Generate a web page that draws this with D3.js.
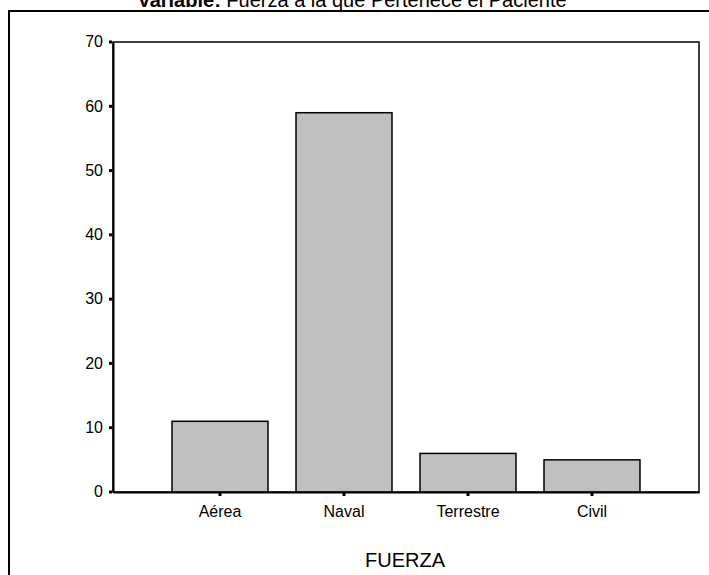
<!DOCTYPE html>
<html><head><meta charset="utf-8">
<script src="https://cdn.jsdelivr.net/npm/d3@7"></script>
<style>body{margin:0;background:#fff}svg{display:block}text{font-family:Arial,"Liberation Sans",sans-serif;fill:#000}</style>
</head><body>
<svg id="c" width="709" height="575"></svg>
<script>
const categories = ["Aérea", "Naval", "Terrestre", "Civil"];
const values = [11, 59, 6, 5];
const yTicks = [0, 10, 20, 30, 40, 50, 60, 70];
const titleBold = "Variable:";
const titleRest = " Fuerza a la que Pertenece el Paciente";
const xTitle = "FUERZA";

const svg = d3.select("#c");
const L = 113, R = 699, T = 42, B = 492;
const x = d3.scaleBand().domain(categories).range([L, R]).paddingInner(0.226).paddingOuter(0.476);
const y = d3.scaleLinear().domain([0, 70]).range([B, T]);

// outer frame
svg.append("path").attr("d", `M9,575V11H709`).attr("fill", "none").attr("stroke", "#000").attr("stroke-width", 2);

// title
const t = svg.append("text").attr("x", 352).attr("y", 6.5).attr("text-anchor", "middle").style("font-size", "20px");
t.append("tspan").attr("font-weight", "bold").text(titleBold);
t.append("tspan").text(titleRest);

// plot frame
svg.append("rect").attr("x", L).attr("y", T).attr("width", R - L).attr("height", B - T)
  .attr("fill", "none").attr("stroke", "#000").attr("stroke-width", 1.5);

// bars
svg.selectAll("rect.bar").data(categories).join("rect").attr("class", "bar")
  .attr("x", d => x(d)).attr("width", x.bandwidth())
  .attr("y", (d, i) => y(values[i])).attr("height", (d, i) => y(0) - y(values[i]))
  .attr("fill", "#c0c0c0").attr("stroke", "#000").attr("stroke-width", 1.5);

// y axis
const ya = svg.append("g").attr("transform", `translate(${L},0)`)
  .call(d3.axisLeft(y).tickValues(yTicks).tickSize(0).tickPadding(10));
ya.select(".domain").attr("stroke", "#000").attr("stroke-width", 2);
ya.selectAll(".tick text").style("font-size", "16px").style("font-family", "Arial").attr("dy", "0.3em");
ya.selectAll(".tick").append("rect").attr("x", -4).attr("y", -2).attr("width", 3).attr("height", 3).attr("fill", "#000");

// x axis
const xa = svg.append("g").attr("transform", `translate(0,${B})`)
  .call(d3.axisBottom(x).tickSize(0).tickPadding(13.5));
xa.select(".domain").attr("stroke", "#000").attr("stroke-width", 2);
xa.selectAll(".tick text").style("font-size", "16px").style("font-family", "Arial");
xa.selectAll(".tick").append("rect").attr("x", -1.5).attr("y", 1).attr("width", 3).attr("height", 3).attr("fill", "#000");

// x title
svg.append("text").attr("x", 405).attr("y", 567).attr("text-anchor", "middle").style("font-size", "20px").text(xTitle);
</script>
</body></html>
